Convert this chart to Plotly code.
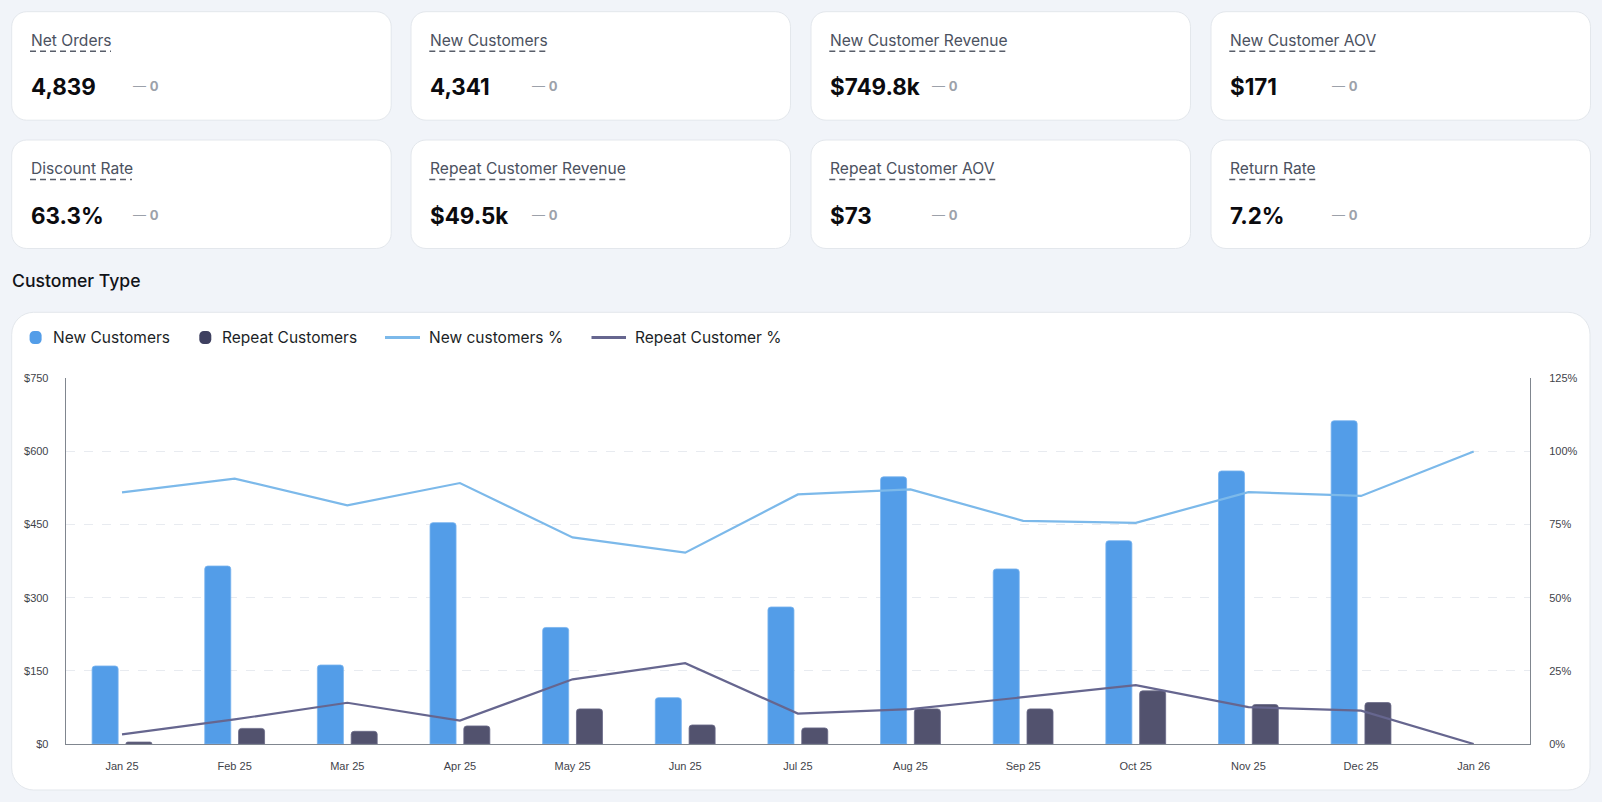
import plotly.graph_objects as go

W, H = 1602, 802

# ---------------- data ----------------
months = ["Jan 25", "Feb 25", "Mar 25", "Apr 25", "May 25", "Jun 25", "Jul 25",
          "Aug 25", "Sep 25", "Oct 25", "Nov 25", "Dec 25", "Jan 26"]
new_customers = [160, 365, 162, 454, 239, 95, 281, 548, 359, 417, 560, 663, None]
repeat_customers = [4, 32, 26, 37, 72, 39, 33, 72, 72, 109, 81, 85, None]
new_pct = [86.0, 90.7, 81.6, 89.2, 70.6, 65.4, 85.3, 87.0, 76.3, 75.6, 86.1, 84.8, 100.0]
repeat_pct = [3.3, 8.4, 14.1, 8.0, 22.1, 27.6, 10.4, 11.9, 16.0, 20.1, 12.6, 11.4, 0.0]

card_titles = ["Net Orders", "New Customers", "New Customer Revenue", "New Customer AOV",
               "Discount Rate", "Repeat Customer Revenue", "Repeat Customer AOV", "Return Rate"]
card_values = ["4,839", "4,341", "$749.8k", "$171", "63.3%", "$49.5k", "$73", "7.2%"]
card_deltas = ["0", "0", "0", "0", "0", "0", "0", "0"]
card_title_widths = [81, 119, 179, 147, 102, 198, 166, 87]

legend_names = ["New Customers", "Repeat Customers", "New customers %", "Repeat Customer %"]
section_title = "Customer Type"

# ---------------- style ----------------
BG = "#f1f4f9"
C_NEW = "#539de8"
C_REP = "#52526e"
C_NEW_L = "#7cb9ea"
C_REP_L = "#66668f"
AXIS_C = "#80868f"
GRID_C = "#e8ebf0"
FONT_UI = "Inter, Noto Sans, sans-serif"
FONT_AX = "Arial, Liberation Sans, sans-serif"


def fx(x):
    return x / W


def fy(y):
    return 1 - y / H


def rrect(x0, y0, x1, y1, r):
    k = 0.4477 * r
    pts = [
        f"M {fx(x0 + r)},{fy(y0)}",
        f"L {fx(x1 - r)},{fy(y0)}",
        f"C {fx(x1 - k)},{fy(y0)} {fx(x1)},{fy(y0 + k)} {fx(x1)},{fy(y0 + r)}",
        f"L {fx(x1)},{fy(y1 - r)}",
        f"C {fx(x1)},{fy(y1 - k)} {fx(x1 - k)},{fy(y1)} {fx(x1 - r)},{fy(y1)}",
        f"L {fx(x0 + r)},{fy(y1)}",
        f"C {fx(x0 + k)},{fy(y1)} {fx(x0)},{fy(y1 - k)} {fx(x0)},{fy(y1 - r)}",
        f"L {fx(x0)},{fy(y0 + r)}",
        f"C {fx(x0)},{fy(y0 + k)} {fx(x0 + k)},{fy(y0)} {fx(x0 + r)},{fy(y0)}",
        "Z",
    ]
    return " ".join(pts)


shapes = []
annotations = []

# ---------------- KPI cards ----------------
col_left = [11.7, 411, 811, 1211]
row_top = [11.7, 140]
card_w, card_h = 379.5, 108.5
for i, title in enumerate(card_titles):
    r, c = divmod(i, 4)
    x0, y0 = col_left[c], row_top[r]
    shapes.append(dict(type="path", path=rrect(x0, y0, x0 + card_w, y0 + card_h, 15),
                       xref="paper", yref="paper", fillcolor="white",
                       line=dict(color="#e3e7ec", width=1), layer="below"))
    tx = x0 + 18.3
    annotations.append(dict(text=title, x=fx(tx - 1), y=fy(y0 + 28.5), xref="paper", yref="paper",
                            xanchor="left", yanchor="middle", showarrow=False,
                            font=dict(family=FONT_UI, size=15.6, color="#4b5160")))
    shapes.append(dict(type="line", xref="paper", yref="paper",
                       x0=fx(tx), x1=fx(tx + card_title_widths[i]),
                       y0=fy(y0 + 39.5), y1=fy(y0 + 39.5),
                       line=dict(color="#585e6a", width=1.5, dash="6px,4px")))
    annotations.append(dict(text="<b>" + card_values[i] + "</b>", x=fx(tx - 1), y=fy(y0 + 75),
                            xref="paper", yref="paper", xanchor="left", yanchor="middle",
                            showarrow=False, font=dict(family=FONT_UI, size=22.4, color="#0b0b0f")))
    annotations.append(dict(text="— <b>" + card_deltas[i] + "</b>", x=fx(x0 + 119), y=fy(y0 + 74.5),
                            xref="paper", yref="paper", xanchor="left", yanchor="middle",
                            showarrow=False, font=dict(family=FONT_UI, size=13, color="#9ca1aa")))

# ---------------- section title ----------------
annotations.append(dict(text=section_title, x=fx(10), y=fy(280), xref="paper", yref="paper",
                        xanchor="left", yanchor="middle", showarrow=False,
                        font=dict(family=FONT_UI, size=17.6, color="#111318", weight=500)))

# ---------------- chart card ----------------
shapes.append(dict(type="path", path=rrect(11.7, 312.3, 1590, 790, 22),
                   xref="paper", yref="paper", fillcolor="white",
                   line=dict(color="#e3e7ec", width=1), layer="below"))

# ---------------- custom legend ----------------
LY = 337.5
leg_font = dict(family=FONT_UI, size=15.5, color="#1c1f26")
shapes.append(dict(type="path", path=rrect(29.6, LY - 6.5, 41.6, LY + 6.5, 4.5),
                   xref="paper", yref="paper", fillcolor=C_NEW, line=dict(width=0)))
annotations.append(dict(text=legend_names[0], x=fx(51), y=fy(LY), xref="paper", yref="paper",
                        xanchor="left", yanchor="middle", showarrow=False, font=leg_font))
shapes.append(dict(type="path", path=rrect(199.3, LY - 6.5, 211.3, LY + 6.5, 4.5),
                   xref="paper", yref="paper", fillcolor="#3e4060", line=dict(width=0)))
annotations.append(dict(text=legend_names[1], x=fx(220), y=fy(LY), xref="paper", yref="paper",
                        xanchor="left", yanchor="middle", showarrow=False, font=leg_font))
shapes.append(dict(type="line", xref="paper", yref="paper", x0=fx(385), x1=fx(420),
                   y0=fy(LY), y1=fy(LY), line=dict(color=C_NEW_L, width=3)))
annotations.append(dict(text=legend_names[2], x=fx(427), y=fy(LY), xref="paper", yref="paper",
                        xanchor="left", yanchor="middle", showarrow=False, font=leg_font))
shapes.append(dict(type="line", xref="paper", yref="paper", x0=fx(591.5), x1=fx(626),
                   y0=fy(LY), y1=fy(LY), line=dict(color=C_REP_L, width=3)))
annotations.append(dict(text=legend_names[3], x=fx(633), y=fy(LY), xref="paper", yref="paper",
                        xanchor="left", yanchor="middle", showarrow=False, font=leg_font))

# ---------------- traces ----------------
fig = go.Figure()
fig.add_trace(go.Bar(x=months, y=new_customers, name=legend_names[0],
                     marker=dict(color=C_NEW, cornerradius=3, line=dict(color="#78b4ef", width=0.8)),
                     yaxis="y"))
fig.add_trace(go.Bar(x=months, y=repeat_customers, name=legend_names[1],
                     marker=dict(color=C_REP, cornerradius=3, line=dict(color="#6a6a88", width=0.8)),
                     yaxis="y"))
fig.add_trace(go.Scatter(x=months, y=new_pct, name=legend_names[2], mode="lines",
                         line=dict(color=C_NEW_L, width=2.2), yaxis="y2"))
fig.add_trace(go.Scatter(x=months, y=repeat_pct, name=legend_names[3], mode="lines",
                         line=dict(color=C_REP_L, width=2.2), yaxis="y2"))

tickfont = dict(family=FONT_AX, size=11, color="#3f434a")
fig.update_layout(
    width=W, height=H, autosize=False,
    margin=dict(l=0, r=0, t=0, b=0, pad=0, autoexpand=False),
    paper_bgcolor=BG, plot_bgcolor="rgba(0,0,0,0)",
    showlegend=False,
    barmode="group", bargap=0.4, bargroupgap=0.23,
    shapes=shapes, annotations=annotations,
    xaxis=dict(domain=[fx(65.7), fx(1530)], type="category", range=[-0.5, 12.5],
               showline=True, linecolor=AXIS_C, linewidth=1, showgrid=False, zeroline=False,
               ticks="", tickfont=tickfont, ticklabelstandoff=12, fixedrange=True,
               automargin=False),
    yaxis=dict(domain=[fy(744), fy(378.3)], range=[0, 750], dtick=150, tick0=0,
               tickprefix="$", showline=True, linecolor=AXIS_C, linewidth=1,
               showgrid=True, gridcolor=GRID_C, griddash="dash", gridwidth=1, zeroline=False,
               ticks="", tickfont=tickfont, ticklabelstandoff=14, fixedrange=True,
               automargin=False),
    yaxis2=dict(overlaying="y", side="right", range=[0, 125], dtick=25, tick0=0,
                ticksuffix="%", showline=True, linecolor=AXIS_C, linewidth=1,
                showgrid=False, zeroline=False, ticks="", tickfont=tickfont,
                ticklabelstandoff=16, fixedrange=True, automargin=False),
    hovermode=False,
)

fig.write_html("out.html", config={"displayModeBar": False})
